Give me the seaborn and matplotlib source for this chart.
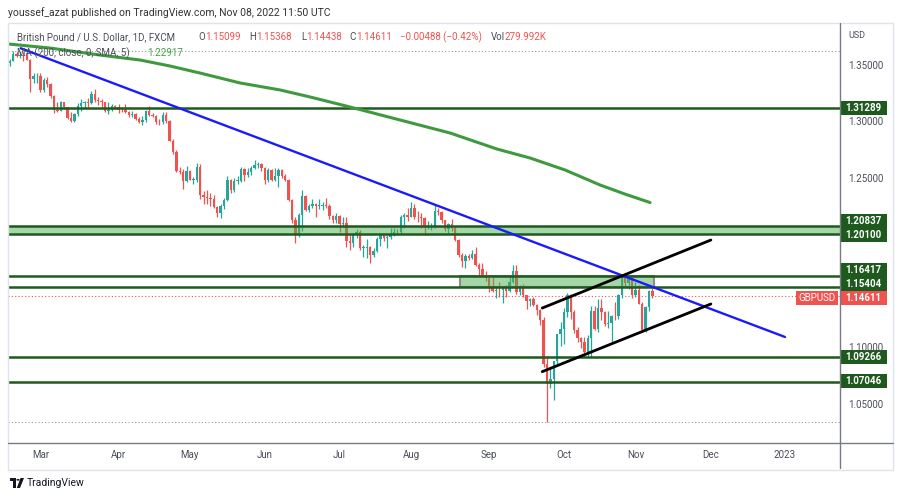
import numpy as np
import pandas as pd
import matplotlib
matplotlib.use("Agg")
import matplotlib.pyplot as plt
import seaborn as sns
from matplotlib.patches import Rectangle, Polygon, Circle

# ---------------- data ----------------
start_date = "2022-02-16"
end_date = "2022-11-08"

opens = [1.3525,1.3545,1.3610,1.3590,1.3600,1.3585,1.3555,1.3385,1.3410,
 1.3415,1.3285,1.3375,1.3345,1.3235,1.3115,1.3105,1.3180,1.3135,1.3040,1.3015,1.3075,1.3150,1.3175,1.3180,1.3170,1.3255,1.3195,1.3190,1.3180,1.3100,1.3115,1.3150,
 1.3135,1.3115,1.3110,1.3090,1.3070,1.3075,1.3035,1.3005,1.3020,1.3100,1.3070,1.3060,1.3005,1.3000,1.3070,1.3010,1.2840,1.2735,1.2575,1.2560,1.2480,
 1.2575,1.2495,1.2495,1.2610,1.2355,1.2340,1.2330,1.2320,1.2250,1.2195,1.2260,1.2315,1.2490,1.2405,1.2485,1.2485,1.2590,1.2535,1.2565,1.2600,1.2625,1.2630,
 1.2600,1.2490,1.2580,1.2490,1.2530,1.2580,1.2530,1.2490,1.2310,1.2140,1.2000,1.2180,1.2350,1.2230,1.2265,1.2275,1.2265,1.2265,1.2270,1.2265,1.2175,1.2135,
 1.2175,1.2100,1.2115,1.1950,1.1930,1.2000,1.2030,1.1890,1.1890,1.1900,1.1825,1.1860,1.1965,1.2000,1.1975,1.1985,1.2005,1.2030,1.2035,1.2165,1.2180,
 1.2165,1.2245,1.2165,1.2160,1.2155,1.2075,1.2075,1.2075,1.2215,1.2205,1.2135,1.2055,1.2100,1.2065,1.1960,1.1830,1.1770,1.1820,1.1800,1.1835,1.1735,1.1700,1.1650,
 1.1620,1.1540,1.1510,1.1520,1.1515,1.1535,1.1505,1.1585,1.1690,1.1500,1.1545,1.1470,1.1420,1.1435,1.1385,1.1340,1.1255,1.0860,1.0685,1.0730,1.0890,1.1125,
 1.1170,1.1320,1.1475,1.1320,1.1160,1.1090,1.1055,1.0970,1.1095,1.1330,1.1175,1.1355,1.1320,1.1215,1.1225,1.1290,1.1285,1.1475,1.1620,1.1580,1.1620,
 1.1470,1.1515,1.1395,1.1165,1.1370,1.15099]
highs = [1.3565,1.3636,1.3625,1.3630,1.3620,1.3615,1.3565,1.3440,1.3440,
 1.3440,1.3390,1.3405,1.3350,1.3240,1.3185,1.3190,1.3185,1.3140,1.3090,1.3080,1.3170,1.3205,1.3190,1.3215,1.3275,1.3298,1.3225,1.3205,1.3185,1.3185,1.3160,1.3155,
 1.3160,1.3140,1.3165,1.3105,1.3100,1.3085,1.3050,1.3055,1.3110,1.3148,1.3085,1.3065,1.3030,1.3090,1.3095,1.3020,1.2850,1.2760,1.2605,1.2585,1.2615,
 1.2580,1.2515,1.2640,1.2635,1.2390,1.2405,1.2375,1.2360,1.2260,1.2275,1.2330,1.2525,1.2500,1.2505,1.2525,1.2605,1.2600,1.2595,1.2615,1.2665,1.2650,1.2640,
 1.2610,1.2595,1.2590,1.2600,1.2600,1.2590,1.2545,1.2500,1.2320,1.2165,1.2200,1.2400,1.2355,1.2280,1.2325,1.2290,1.2325,1.2295,1.2330,1.2280,1.2180,1.2195,
 1.2185,1.2165,1.2160,1.2000,1.2020,1.2055,1.2045,1.1920,1.1965,1.1910,1.1890,1.1990,1.2020,1.2015,1.2005,1.2065,1.2065,1.2060,1.2180,1.2200,1.2245,
 1.2293,1.2280,1.2215,1.2200,1.2160,1.2125,1.2110,1.2275,1.2245,1.2215,1.2140,1.2115,1.2145,1.2085,1.1965,1.1845,1.1835,1.1835,1.1870,1.1900,1.1755,1.1760,1.1690,
 1.1625,1.1650,1.1550,1.1590,1.1540,1.1560,1.1650,1.1735,1.1738,1.1560,1.1575,1.1475,1.1445,1.1455,1.1395,1.1350,1.1275,1.0930,1.0840,1.0890,1.1130,1.1235,
 1.1360,1.1495,1.1480,1.1340,1.1190,1.1100,1.1100,1.1120,1.1380,1.1380,1.1440,1.1435,1.1335,1.1335,1.1295,1.1410,1.1480,1.1645,1.1645,1.1640,1.1625,
 1.1590,1.1565,1.1410,1.1375,1.1515,1.15368]
lows = [1.3500,1.3540,1.3580,1.3570,1.3540,1.3550,1.3272,1.3350,1.3350,
 1.3273,1.3270,1.3315,1.3220,1.3085,1.3090,1.3100,1.3120,1.3030,1.3000,1.3000,1.3060,1.3105,1.3130,1.3140,1.3160,1.3180,1.3155,1.3140,1.3090,1.3075,1.3105,1.3120,
 1.3085,1.3090,1.3085,1.3050,1.3045,1.3020,1.2995,1.2980,1.3005,1.3055,1.3050,1.2985,1.2975,1.2990,1.2995,1.2835,1.2720,1.2565,1.2545,1.2410,1.2470,
 1.2490,1.2460,1.2470,1.2325,1.2275,1.2280,1.2265,1.2240,1.2165,1.2155,1.2235,1.2305,1.2380,1.2385,1.2455,1.2475,1.2485,1.2520,1.2535,1.2590,1.2600,1.2570,
 1.2460,1.2475,1.2480,1.2480,1.2430,1.2510,1.2480,1.2305,1.2110,1.1934,1.1990,1.2040,1.2220,1.2210,1.2245,1.2160,1.2235,1.2225,1.2245,1.2150,1.2110,1.2110,
 1.2030,1.2080,1.1900,1.1875,1.1900,1.1975,1.1870,1.1810,1.1805,1.1760,1.1810,1.1855,1.1910,1.1955,1.1890,1.1965,1.1995,1.2000,1.2015,1.2065,1.2130,
 1.2160,1.2150,1.2120,1.2065,1.2005,1.2060,1.2045,1.2070,1.2185,1.2110,1.2040,1.2020,1.2040,1.1955,1.1810,1.1720,1.1715,1.1780,1.1790,1.1730,1.1650,1.1645,1.1600,
 1.1500,1.1500,1.1445,1.1460,1.1405,1.1460,1.1500,1.1580,1.1480,1.1475,1.1460,1.1350,1.1375,1.1375,1.1300,1.1210,1.0840,1.0350,1.0650,1.0540,1.0860,1.1025,
 1.1040,1.1280,1.1265,1.1140,1.1055,1.1000,1.0925,1.0925,1.0925,1.1165,1.1150,1.1255,1.1200,1.1185,1.1060,1.1255,1.1265,1.1450,1.1545,1.1530,1.1450,
 1.1460,1.1390,1.1145,1.1150,1.1335,1.14438]
closes = [1.3545,1.3610,1.3590,1.3600,1.3585,1.3555,1.3385,1.3410,1.3415,
 1.3285,1.3375,1.3345,1.3235,1.3115,1.3105,1.3180,1.3135,1.3040,1.3015,1.3075,1.3150,1.3175,1.3180,1.3170,1.3255,1.3195,1.3190,1.3180,1.3100,1.3115,1.3150,1.3135,
 1.3115,1.3110,1.3090,1.3070,1.3075,1.3035,1.3005,1.3020,1.3100,1.3070,1.3060,1.3005,1.3000,1.3070,1.3010,1.2840,1.2735,1.2575,1.2560,1.2480,1.2575,
 1.2495,1.2495,1.2610,1.2355,1.2340,1.2330,1.2320,1.2250,1.2195,1.2260,1.2315,1.2490,1.2405,1.2485,1.2485,1.2590,1.2535,1.2565,1.2600,1.2625,1.2630,1.2600,
 1.2490,1.2580,1.2490,1.2530,1.2580,1.2530,1.2490,1.2310,1.2140,1.2000,1.2180,1.2350,1.2230,1.2265,1.2275,1.2265,1.2265,1.2270,1.2265,1.2175,1.2135,1.2175,
 1.2100,1.2115,1.1950,1.1930,1.2000,1.2030,1.1890,1.1890,1.1900,1.1825,1.1860,1.1965,1.2000,1.1975,1.1985,1.2005,1.2030,1.2035,1.2165,1.2180,1.2165,
 1.2245,1.2165,1.2160,1.2155,1.2075,1.2075,1.2075,1.2215,1.2205,1.2135,1.2055,1.2100,1.2065,1.1960,1.1830,1.1770,1.1820,1.1800,1.1835,1.1735,1.1700,1.1650,1.1620,
 1.1540,1.1510,1.1520,1.1515,1.1535,1.1505,1.1585,1.1690,1.1500,1.1545,1.1470,1.1420,1.1435,1.1385,1.1340,1.1255,1.0860,1.0685,1.0730,1.0890,1.1125,1.1170,
 1.1320,1.1475,1.1320,1.1160,1.1090,1.1055,1.0970,1.1095,1.1330,1.1175,1.1355,1.1320,1.1215,1.1225,1.1290,1.1285,1.1475,1.1620,1.1580,1.1620,1.1470,
 1.1515,1.1395,1.1165,1.1370,1.1510,1.14611]

# 200-day SMA (offset 5): bar index / value
ma_idx = [-0.5, 11.8, 26.5, 38.3, 47.1, 55.9, 67.7, 79.5, 88.3, 100.1, 114.8, 129.5,
          143.3, 153.0, 163.3, 173.6, 180.9, 188.3]
ma_val = [1.3695, 1.3659, 1.3597, 1.3553, 1.3500, 1.3438, 1.3350, 1.3288, 1.3226, 1.3137,
          1.3022, 1.2907, 1.2765, 1.2686, 1.2580, 1.2447, 1.2367, 1.22917]

# horizontal levels
levels = [1.31289, 1.20837, 1.20100, 1.16417, 1.15404, 1.09266, 1.07046]
zone_full = (1.20100, 1.20837)
zone_box = (1.15404, 1.16417)
zone_box_idx = (132.4, 189.5)

# trend lines (bar index, price)
blue_idx, blue_val = [3.2, 228.0], [1.3657, 1.1102]
chan_up_idx, chan_up_val = [156.6, 206.2], [1.1358, 1.1960]
chan_lo_idx, chan_lo_val = [156.6, 206.2], [1.0795, 1.1394]

price_ticks = [1.35, 1.30, 1.25, 1.20, 1.15, 1.10, 1.05]
month_keys = ["2022-03", "2022-04", "2022-05", "2022-06", "2022-07", "2022-08",
              "2022-09", "2022-10", "2022-11", "2022-12", "2023-01"]
month_labels = ["Mar", "Apr", "May", "Jun", "Jul", "Aug", "Sep", "Oct", "Nov", "Dec", "2023"]

# ---------------- style ----------------
sns.set_theme(style="white")
plt.rcParams["font.family"] = ["Roboto", "DejaVu Sans"]

UP, DN = "#26a69a", "#ef5350"
LVL = "#1e5a1e"
GRY = "#4a4e59"

W, H = 900, 499
L, R, T, B = 8, 840, 23, 443
fig = plt.figure(figsize=(9, 4.99), dpi=100)
fig.patch.set_facecolor("white")
ax = fig.add_axes([L / W, 1 - B / H, (R - L) / W, (B - T) / H])
ylo, yhi = 1.01637, 1.38805
xlo, xhi = -0.53, 244.18
ax.set_xlim(xlo, xhi)
ax.set_ylim(ylo, yhi)
ax.set_facecolor("white")
for s in ax.spines.values():
    s.set_visible(False)
ax.set_xticks([]); ax.set_yticks([])


def py(p):
    return T + (yhi - p) / (yhi - ylo) * (B - T)


def fx(x):
    return x / W


def fy(y):
    return 1 - y / H


o = np.array(opens); h = np.array(highs); lo = np.array(lows); c = np.array(closes)
n = len(c)
x = np.arange(n)
cols = np.where(c >= o, UP, DN)
ax.vlines(x, lo, h, colors=cols, linewidth=0.9, zorder=2)
body_lo = np.minimum(o, c)
body_h = np.maximum(np.abs(c - o), 0.0004)
ax.bar(x, body_h, bottom=body_lo, width=0.74, color=cols, linewidth=0, zorder=2)

# high / low dotted lines and current price line
ax.axhline(h.max(), color="#9598a1", lw=0.8, ls=(0, (1, 2)), zorder=1)
ax.axhline(lo.min(), color="#9598a1", lw=0.8, ls=(0, (1, 2)), zorder=1)
ax.axhline(c[-1], color=DN, lw=0.8, ls=(0, (1, 2)), zorder=1)

# zones
ax.axhspan(zone_full[0], zone_full[1], color="#4caf50", alpha=0.5, lw=0, zorder=3)
ax.add_patch(Rectangle((zone_box_idx[0], zone_box[0]), zone_box_idx[1] - zone_box_idx[0],
                       zone_box[1] - zone_box[0], facecolor=(0.298, 0.686, 0.314, 0.5),
                       edgecolor="#8d8d8d", lw=1.5, zorder=3))
for lv in levels:
    ax.axhline(lv, color=LVL, lw=1.8, zorder=4)

# lines
sns.lineplot(x=ma_idx, y=ma_val, ax=ax, color="#3f9a3f", linewidth=2.2, sort=False, estimator=None, zorder=5)
sns.lineplot(x=blue_idx, y=blue_val, ax=ax, color="#1a1aff", linewidth=1.7, sort=False, estimator=None, zorder=5)
sns.lineplot(x=chan_up_idx, y=chan_up_val, ax=ax, color="black", linewidth=2.0, sort=False, estimator=None, zorder=5)
sns.lineplot(x=chan_lo_idx, y=chan_lo_val, ax=ax, color="black", linewidth=2.0, sort=False, estimator=None, zorder=5)
ax.set_xlabel(""); ax.set_ylabel("")
ax.set_xlim(xlo, xhi); ax.set_ylim(ylo, yhi)

# ---------------- frame ----------------
fig.add_artist(Rectangle((fx(8), fy(470)), (893 - 8) / W, (470 - 23) / H, transform=fig.transFigure,
                         fill=False, edgecolor="#e0e3eb", lw=1.0))
fig.add_artist(plt.Line2D([fx(8), fx(893)], [fy(443), fy(443)], transform=fig.transFigure, color="#787b86", lw=1.0))
fig.add_artist(plt.Line2D([fx(840), fx(840)], [fy(23), fy(468)], transform=fig.transFigure, color="#787b86", lw=1.0))

# ---------------- right price axis ----------------
fig.text(fx(848), fy(35), "USD", fontsize=6.5, color=GRY, va="center", ha="left")

label_dy = [0, -5, 0.6, -6, -3.4, 0, -1]
box_centers = [py(lv) + dy for lv, dy in zip(levels, label_dy)]
cur_center = py(c[-1]) + 1.6
all_centers = box_centers + [cur_center]

for p in price_ticks:
    yp = py(p)
    if any(abs(yp - bc) < 7 for bc in all_centers):
        continue  # hidden under a price label, as in the reference
    fig.text(fx(848), fy(yp), f"{p:.5f}", fontsize=7, color=GRY, va="center", ha="left")

for lv, yc in zip(levels, box_centers):
    fig.add_artist(Rectangle((fx(840), fy(yc + 7)), 47 / W, 14 / H, transform=fig.transFigure,
                             facecolor=LVL, edgecolor="none"))
    fig.text(fx(863.5), fy(yc), f"{lv:.5f}", fontsize=7, color="white", va="center", ha="center",
             fontweight="bold")
yc = cur_center
fig.add_artist(Rectangle((fx(840), fy(yc + 7)), 47 / W, 14 / H, transform=fig.transFigure,
                         facecolor=DN, edgecolor="none"))
fig.text(fx(863.5), fy(yc), f"{c[-1]:.5f}", fontsize=7, color="white", va="center", ha="center",
         fontweight="bold")
fig.add_artist(Rectangle((fx(796), fy(yc + 7)), 42 / W, 14 / H, transform=fig.transFigure,
                         facecolor=DN, edgecolor="none"))
fig.text(fx(817), fy(yc), "GBPUSD", fontsize=7, color="white", va="center", ha="center")

# ---------------- time axis ----------------
ext = pd.bdate_range(start_date, "2023-01-31")
keys = ext.strftime("%Y-%m")
for k, lab in zip(month_keys, month_labels):
    i = int(np.where(keys == k)[0][0])
    xp = L + (i - xlo) / (xhi - xlo) * (R - L)
    fig.text(fx(xp), fy(455), lab, fontsize=7, color=GRY, ha="center", va="center")

# ---------------- texts ----------------
fig.text(fx(8), fy(13), "youssef_azat published on TradingView.com, Nov 08, 2022 11:50 UTC",
         fontsize=7.5, color="#333333", ha="left", va="center")
legend_parts = [("British Pound / U.S. Dollar, 1D, FXCM", 16.7, GRY),
                ("O", 198, GRY), ("1.15099", 205.5, DN),
                ("H", 249, GRY), ("1.15368", 256.5, DN),
                ("L", 301, GRY), ("1.14438", 306.5, DN),
                ("C", 349, GRY), ("1.14611", 356, DN),
                ("\u22120.00488 (\u22120.42%)", 400, DN),
                ("Vol", 491, GRY), ("279.992K", 504, DN)]
for txt, xp, col in legend_parts:
    fig.text(fx(xp), fy(37), txt, fontsize=7, color=col, ha="left", va="center")
fig.text(fx(17), fy(53), "MA (200, close, 0, SMA, 5)", fontsize=7, color=GRY, ha="left", va="center")
fig.text(fx(147), fy(53), f"{ma_val[-1]:.5f}", fontsize=7, color="#43a047", ha="left", va="center")

# TradingView logo
fig.add_artist(Polygon([(fx(10), fy(478)), (fx(16), fy(478)), (fx(16), fy(488)), (fx(13), fy(488)),
                        (fx(13), fy(481)), (fx(10), fy(481))], closed=True, transform=fig.transFigure,
                       facecolor="#131722", edgecolor="none"))
fig.add_artist(Circle((fx(18), fy(479.8)), 1.6 / W, transform=fig.transFigure, facecolor="#131722",
                      edgecolor="none"))
fig.add_artist(Polygon([(fx(20.5), fy(478)), (fx(24), fy(478)), (fx(20), fy(488)), (fx(16.8), fy(488))],
                       closed=True, transform=fig.transFigure, facecolor="#131722", edgecolor="none"))
fig.text(fx(27), fy(483), "TradingView", fontsize=7.5, color="#131722", ha="left", va="center")

fig.savefig("out.png", dpi=100, facecolor="white")
